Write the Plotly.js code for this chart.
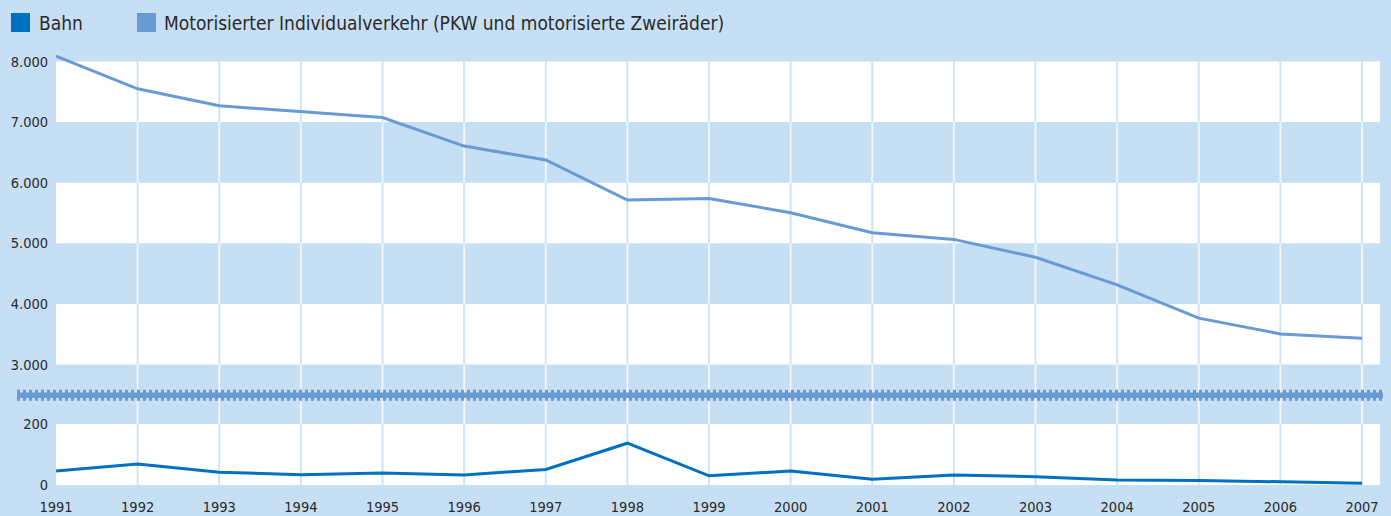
<!DOCTYPE html>
<html>
<head>
<meta charset="utf-8">
<script src="https://cdn.plot.ly/plotly-3.0.1.min.js"></script>
<style>html,body{margin:0;padding:0;background:#c7dff4;}#chart{width:1391px;height:516px;}</style>
</head>
<body>
<div id="chart"></div>
<script>
// ---- data ----
const years = [1991,1992,1993,1994,1995,1996,1997,1998,1999,2000,2001,2002,2003,2004,2005,2006,2007];
const seriesNames = ["Bahn", "Motorisierter Individualverkehr (PKW und motorisierte Zweiräder)"];
const bahn = [46,69,42,34,39,33,51,137,30,46,19,33,27,16,15,11,6];
const miv = [8090,7550,7270,7170,7075,6605,6375,5715,5740,5505,5175,5065,4770,4315,3765,3505,3435];
const topTicks = [3000,4000,5000,6000,7000,8000];
const bottomTicks = [0,200];
const topWhiteBands = [[7000,8000],[5000,6000],[3000,4000]];
const topBlueBands = [[6000,7000],[4000,5000],[2497,3000]];
const bottomWhiteBands = [[0,200]];
const bottomBlueBands = [[200,295]];

// ---- styling ----
const BG = "#c7dff4";
const C_BAHN = "#0070c0";
const C_MIV = "#689bd5";
const FONT = "'DejaVu Sans Condensed', 'Liberation Sans Narrow', sans-serif";
const W = 1391, H = 516;
const L = 56, R = 11, T = 40, B = 31;
const PW = W - L - R, PH = H - T - B;
const px = v => (v - L) / PW;
const py = v => (H - B - v) / PH;
const split = py(395);

const traces = [
  {x: years, y: bahn, name: seriesNames[0], type: "scatter", mode: "lines",
   line: {color: C_BAHN, width: 3}, xaxis: "x", yaxis: "y", showlegend: false, hoverinfo: "x+y"},
  {x: years, y: miv, name: seriesNames[1], type: "scatter", mode: "lines",
   line: {color: C_MIV, width: 3}, xaxis: "x", yaxis: "y2", showlegend: false, hoverinfo: "x+y"}
];

const shapes = [];
const band = (yref, b, color) => shapes.push({type: "rect", xref: "paper", yref: yref, x0: 0, x1: 1, y0: b[0], y1: b[1],
  fillcolor: color, line: {width: 0}, layer: "below"});
topWhiteBands.forEach(b => band("y2", b, "#ffffff"));
bottomWhiteBands.forEach(b => band("y", b, "#ffffff"));
const vline = (yref, yr, b, color) => shapes.push({type: "line", xref: "x", yref: yref, x0: yr, x1: yr, y0: b[0], y1: b[1],
  line: {color: color, width: 2}, layer: "between"});
years.slice(1).forEach(yr => {
  topWhiteBands.forEach(b => vline("y2", yr, b, "#cfe3f6"));
  bottomWhiteBands.forEach(b => vline("y", yr, b, "#cfe3f6"));
  topBlueBands.forEach(b => vline("y2", yr, b, "#eef5fc"));
  bottomBlueBands.forEach(b => vline("y", yr, b, "#eef5fc"));
});
// axis break marker
shapes.push({type: "line", xref: "paper", yref: "paper", x0: px(17), x1: px(1383), y0: py(395.3), y1: py(395.3),
  line: {color: C_MIV, width: 5.5}, layer: "above"});
shapes.push({type: "line", xref: "paper", yref: "paper", x0: px(17), x1: px(1383), y0: py(395.3), y1: py(395.3),
  line: {color: C_MIV, width: 11, dash: "3px,3px"}, layer: "above"});
// legend squares
shapes.push({type: "rect", xref: "paper", yref: "paper", x0: px(11), x1: px(30), y0: py(32), y1: py(13),
  fillcolor: C_BAHN, line: {width: 0}});
shapes.push({type: "rect", xref: "paper", yref: "paper", x0: px(137), x1: px(156), y0: py(32), y1: py(13),
  fillcolor: C_MIV, line: {width: 0}});

const annotations = [
  {xref: "paper", yref: "paper", x: px(37), y: py(22.5), xanchor: "left", yanchor: "middle", showarrow: false,
   text: seriesNames[0], font: {family: FONT, size: 19, color: "#2a2a2a"}},
  {xref: "paper", yref: "paper", x: px(162), y: py(22.5), xanchor: "left", yanchor: "middle", showarrow: false,
   text: seriesNames[1], font: {family: FONT, size: 19, color: "#2a2a2a"}}
];

const tickFont = {family: FONT, size: 14.5, color: "#2a2a2a"};
const layout = {
  width: W, height: H,
  margin: {l: L, r: R, t: T, b: B, pad: 0},
  paper_bgcolor: BG, plot_bgcolor: BG,
  separators: ",.",
  showlegend: false,
  font: {family: FONT, size: 15, color: "#2a2a2a"},
  xaxis: {range: [1991, 2007.22], tickvals: years, ticktext: years.map(String), showgrid: false,
    zeroline: false, showline: false, ticks: "outside", ticklen: 9,
    tickcolor: "rgba(0,0,0,0)", tickfont: tickFont, anchor: "y"},
  yaxis: {domain: [0, split], range: [0, 295], tickvals: bottomTicks, tickformat: ",.0f", showgrid: false,
    zeroline: false, showline: false, ticks: "outside", ticklen: 4, tickcolor: "rgba(0,0,0,0)", tickfont: tickFont},
  yaxis2: {domain: [split, 1], range: [2497, 8355], tickvals: topTicks, tickformat: ",.0f", showgrid: false,
    zeroline: false, showline: false, ticks: "outside", ticklen: 4, tickcolor: "rgba(0,0,0,0)",
    tickfont: tickFont, anchor: "x"},
  shapes: shapes,
  annotations: annotations
};

Plotly.newPlot("chart", traces, layout, {displayModeBar: false, staticPlot: true});
</script>
</body>
</html>
